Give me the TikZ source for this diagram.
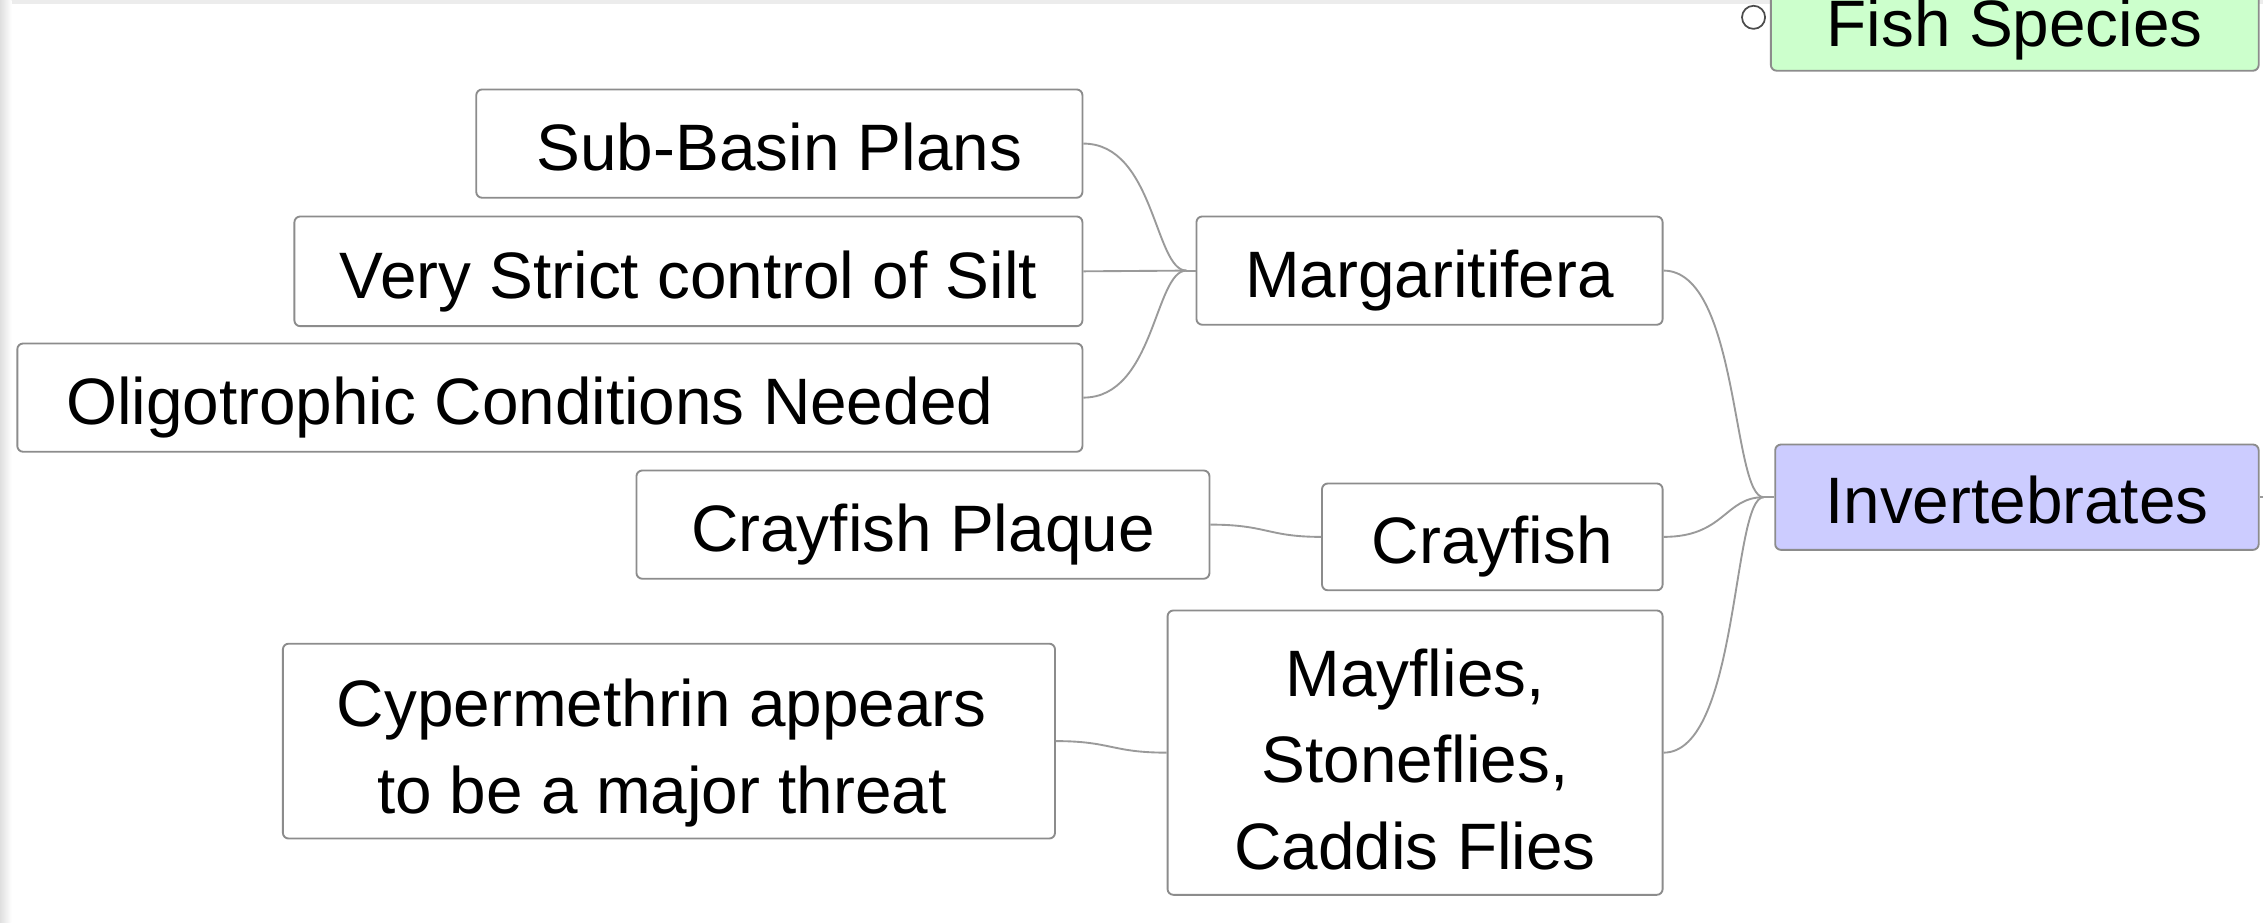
\documentclass[tikz,border=0pt]{standalone}
\usepackage{fontspec}
\setmainfont{Liberation Sans}
\definecolor{boxgray}{HTML}{8C8C8C}
\definecolor{linegray}{HTML}{9A9A9A}
\definecolor{invfill}{HTML}{CCCCFF}
\definecolor{fishfill}{HTML}{CCFFCC}
\begin{document}
\begin{tikzpicture}[x=1pt,y=-1pt,
  box/.style={draw=boxgray, line width=1.3pt, rounded corners=4pt, fill=white, inner sep=0pt,
    font=\fontsize{45.5}{60}\selectfont},
  one/.style={box, text height=37pt, text depth=0pt},
  multi/.style={box, align=center, text depth=0pt},
  link/.style={draw=linegray, line width=1.3pt}]
\useasboundingbox (0,0) rectangle (1568,639);
\clip (0,0) rectangle (1568,639);
\fill[white] (0,0) rectangle (1568,639);
\fill[gray!15] (0,0) rectangle (1568,3);
\shade[left color=gray!25, right color=white] (0,0) rectangle (8,639);

% nodes
\node[one, minimum width=338pt, minimum height=70pt, fill=fishfill] (fish) at (1396,14) {Fish Species};
\node[draw=black!70, line width=1.2pt, fill=white, circle, minimum size=16pt, inner sep=0pt] (fc) at (1215,12) {};

\node[one, minimum width=420pt, minimum height=75pt] (sub) at (540,99.5) {Sub-Basin Plans};
\node[one, minimum width=546pt, minimum height=76pt] (silt) at (477,188) {Very Strict control of Silt};
\node[one, minimum width=738pt, minimum height=75pt] (oligo) at (381,275.5) {Oligotrophic Conditions Needed\kern28pt};
\node[one, minimum width=323pt, minimum height=75pt] (marg) at (990.5,187.5) {Margaritifera};
\node[one, minimum width=397pt, minimum height=75pt] (plaque) at (639.5,363.5) {Crayfish Plaque};
\node[one, minimum width=236pt, minimum height=74pt] (cray) at (1034,372) {Crayfish};
\node[one, minimum width=335pt, minimum height=73pt, fill=invfill] (inv) at (1397.5,344.5) {Invertebrates};
\node[multi, text height=161.8pt, minimum width=343pt, minimum height=197pt] (may) at (980.5,521.5) {Mayflies,\\Stoneflies,\\Caddis Flies};
\node[multi, text height=99.8pt, minimum width=535pt, minimum height=135pt] (cyp) at (463.5,513.5) {Cypermethrin appears\kern10pt\\to be a major threat\kern10pt};

% junctions
\coordinate (mj) at (822,187.5);
\coordinate (ij) at (1222,344.5);
\coordinate (edge) at (1568,344.5);

% connectors
\draw[link] (sub.east) .. controls (800,99.5) and (800,187.5) .. (mj);
\draw[link] (silt.east) -- (mj);
\draw[link] (oligo.east) .. controls (800,275.5) and (800,187.5) .. (mj);
\draw[link] (mj) -- (marg.west);

\draw[link] (marg.east) .. controls (1205,187.5) and (1200,344.5) .. (ij);
\draw[link] (cray.east) .. controls (1195,372) and (1195,344.5) .. (ij);
\draw[link] (may.east) .. controls (1205,521.5) and (1200,344.5) .. (ij);
\draw[link] (ij) -- (inv.west);
\draw[link] (inv.east) -- (edge);

\draw[link] (plaque.east) .. controls (878,363.5) and (878,372) .. (cray.west);
\draw[link] (cyp.east) .. controls (770,513.5) and (770,521.5) .. (may.west);
\end{tikzpicture}
\end{document}
